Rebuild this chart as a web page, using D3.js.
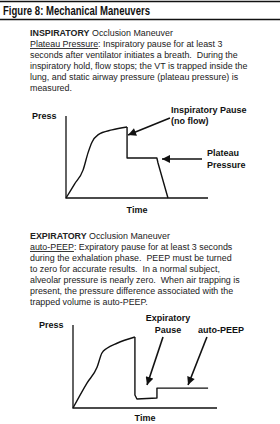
<!DOCTYPE html>
<html>
<head>
<meta charset="utf-8">
<script src="https://cdn.jsdelivr.net/npm/d3@7"></script>
<style>
  body { margin: 0; background: #fff; }
  svg { display: block; }
</style>
</head>
<body>
<div id="main"></div>
<script>
const width = 280;
const height = 424;
const ink = "#111";

// text blocks
const title = "Figure 8: Mechanical Maneuvers";
const inspLines = [
  ["INSPIRATORY", " Occlusion Maneuver"],
  ["Plateau Pressure", ": Inspiratory pause for at least 3"],
  ["", "seconds after ventilator initiates a breath.  During the"],
  ["", "inspiratory hold, flow stops; the VT is trapped inside the"],
  ["", "lung, and static airway pressure (plateau pressure) is"],
  ["", "measured."],
];
const expLines = [
  ["EXPIRATORY", " Occlusion Maneuver"],
  ["auto-PEEP", ": Expiratory pause for at least 3 seconds"],
  ["", "during the exhalation phase.  PEEP must be turned"],
  ["", "to zero for accurate results.  In a normal subject,"],
  ["", "alveolar pressure is nearly zero.  When air trapping is"],
  ["", "present, the pressure difference associated with the"],
  ["", "trapped volume is auto-PEEP."],
];

// waveform 1 (time 0-100, pressure 0-100)
const inspRise = [[0, 0], [6, 17], [12, 34], [15.5, 55], [18.3, 68], [22.5, 77], [32.4, 83], [43, 86.6]];
const inspRest = [[43, 86.6], [43, 48.8], [64, 48.8], [64.8, 42.7], [71.8, 0]];
// waveform 2
const expRise = [[0, 0], [9.7, 30], [16.7, 49], [20, 66], [23.6, 72], [30.6, 78], [43, 85.5]];
const expRest = [[43, 85.5], [43, 15.7], [44.4, 10.8], [58.3, 12], [58.3, 24], [93.8, 24]];

// annotations: arrow from -> to, in data units
const inspArrows = [
  { from: [73.2, 97.6], to: [43.7, 76.8] },
  { from: [95.8, 47.6], to: [67.6, 47.6] },
];
const expArrows = [
  { from: [62.5, 85.5], to: [51.4, 27.7] },
  { from: [93, 85.5], to: [79.9, 27.7] },
];
const inspLabels = [
  { at: [73.9, 103.7], lines: ["Inspiratory Pause", "(no flow)"], anchor: "start" },
  { at: [99.3, 51.2], lines: ["Plateau", "Pressure"], anchor: "start" },
];
const expLabels = [
  { at: [66, 104.8], lines: ["Expiratory", "Pause"], anchor: "middle" },
  { at: [86.8, 90.4], lines: ["auto-PEEP"], anchor: "start" },
];

const svg = d3.select("#main").append("svg").attr("width", width).attr("height", height);

svg.append("defs").append("marker")
  .attr("id", "head")
  .attr("viewBox", "0 0 10 10")
  .attr("refX", 10)
  .attr("refY", 5)
  .attr("markerUnits", "userSpaceOnUse")
  .attr("markerWidth", 9)
  .attr("markerHeight", 8)
  .attr("orient", "auto")
  .append("path")
  .attr("d", "M0,0 L10,5 L0,10 Z")
  .attr("fill", ink);

// header
svg.append("line").attr("x1", 0).attr("x2", width).attr("y1", 1.5).attr("y2", 1.5)
  .attr("stroke", ink).attr("stroke-width", 1.5);
svg.append("line").attr("x1", 0).attr("x2", width).attr("y1", 19.5).attr("y2", 19.5)
  .attr("stroke", ink).attr("stroke-width", 1.5);
svg.append("text")
  .attr("x", 3)
  .attr("y", 15)
  .attr("textLength", 147)
  .attr("lengthAdjust", "spacingAndGlyphs")
  .text(title)
  .style("font-family", "'Liberation Sans', Arial, sans-serif")
  .style("font-size", "12px")
  .style("font-weight", "bold")
  .attr("fill", ink);

const drawBlock = (lines, x, y0, step) => {
  lines.forEach((l, i) => {
    const t = svg.append("text")
      .attr("x", x)
      .attr("y", y0 + i * step)
      .style("font-family", "'Liberation Sans', Arial, sans-serif")
      .style("font-size", "8.9px")
      .style("white-space", "pre")
      .attr("fill", "#222");
    if (l[0]) {
      t.append("tspan").text(l[0])
        .style("font-weight", i === 0 ? "bold" : "normal")
        .style("text-decoration", i === 0 ? "none" : "underline");
    }
    t.append("tspan").text(l[1]);
  });
};

drawBlock(inspLines, 30, 36, 11);
drawBlock(expLines, 30, 239, 11);

const drawChart = (opts) => {
  const x = d3.scaleLinear().domain([0, 100]).range(opts.xr);
  const y = d3.scaleLinear().domain([0, 100]).range(opts.yr);
  const g = svg.append("g");

  // axes (plain lines, no ticks)
  g.append("path")
    .attr("d", `M${x(0)},${y(100)} V${y(0)} H${x(100)}`)
    .attr("fill", "none").attr("stroke", ink).attr("stroke-width", 1.3);

  const smooth = d3.line().x((d) => x(d[0])).y((d) => y(d[1])).curve(d3.curveMonotoneX);
  const straight = d3.line().x((d) => x(d[0])).y((d) => y(d[1]));
  g.append("path").attr("d", smooth(opts.rise))
    .attr("fill", "none").attr("stroke", ink).attr("stroke-width", 1.4);
  g.append("path").attr("d", straight(opts.rest))
    .attr("fill", "none").attr("stroke", ink).attr("stroke-width", 1.4)
    .attr("stroke-linejoin", "round");

  opts.arrows.forEach((a) => {
    g.append("line")
      .attr("x1", x(a.from[0])).attr("y1", y(a.from[1]))
      .attr("x2", x(a.to[0])).attr("y2", y(a.to[1]))
      .attr("stroke", ink).attr("stroke-width", 1.6)
      .attr("marker-end", "url(#head)");
  });

  const labelFont = (sel) => sel
    .style("font-family", "'Liberation Sans', Arial, sans-serif")
    .style("font-size", "9px")
    .style("font-weight", "bold")
    .attr("fill", ink);

  opts.labels.forEach((lb) => {
    lb.lines.forEach((s, i) => {
      g.append("text")
        .attr("x", x(lb.at[0]))
        .attr("y", y(lb.at[1]) + i * 11.5)
        .attr("text-anchor", lb.anchor)
        .text(s)
        .call(labelFont);
    });
  });

  g.append("text").attr("x", x(0) - 34).attr("y", y(100) + 3).text("Press").call(labelFont);
  g.append("text").attr("x", x(50)).attr("y", y(0) + opts.timeGap).attr("text-anchor", "middle")
    .text("Time").call(labelFont);
};

drawChart({ xr: [66, 208], yr: [198, 116], rise: inspRise, rest: inspRest, arrows: inspArrows, labels: inspLabels, timeGap: 15 });
drawChart({ xr: [73, 217], yr: [408, 325], rise: expRise, rest: expRest, arrows: expArrows, labels: expLabels, timeGap: 13 });
</script>
</body>
</html>
